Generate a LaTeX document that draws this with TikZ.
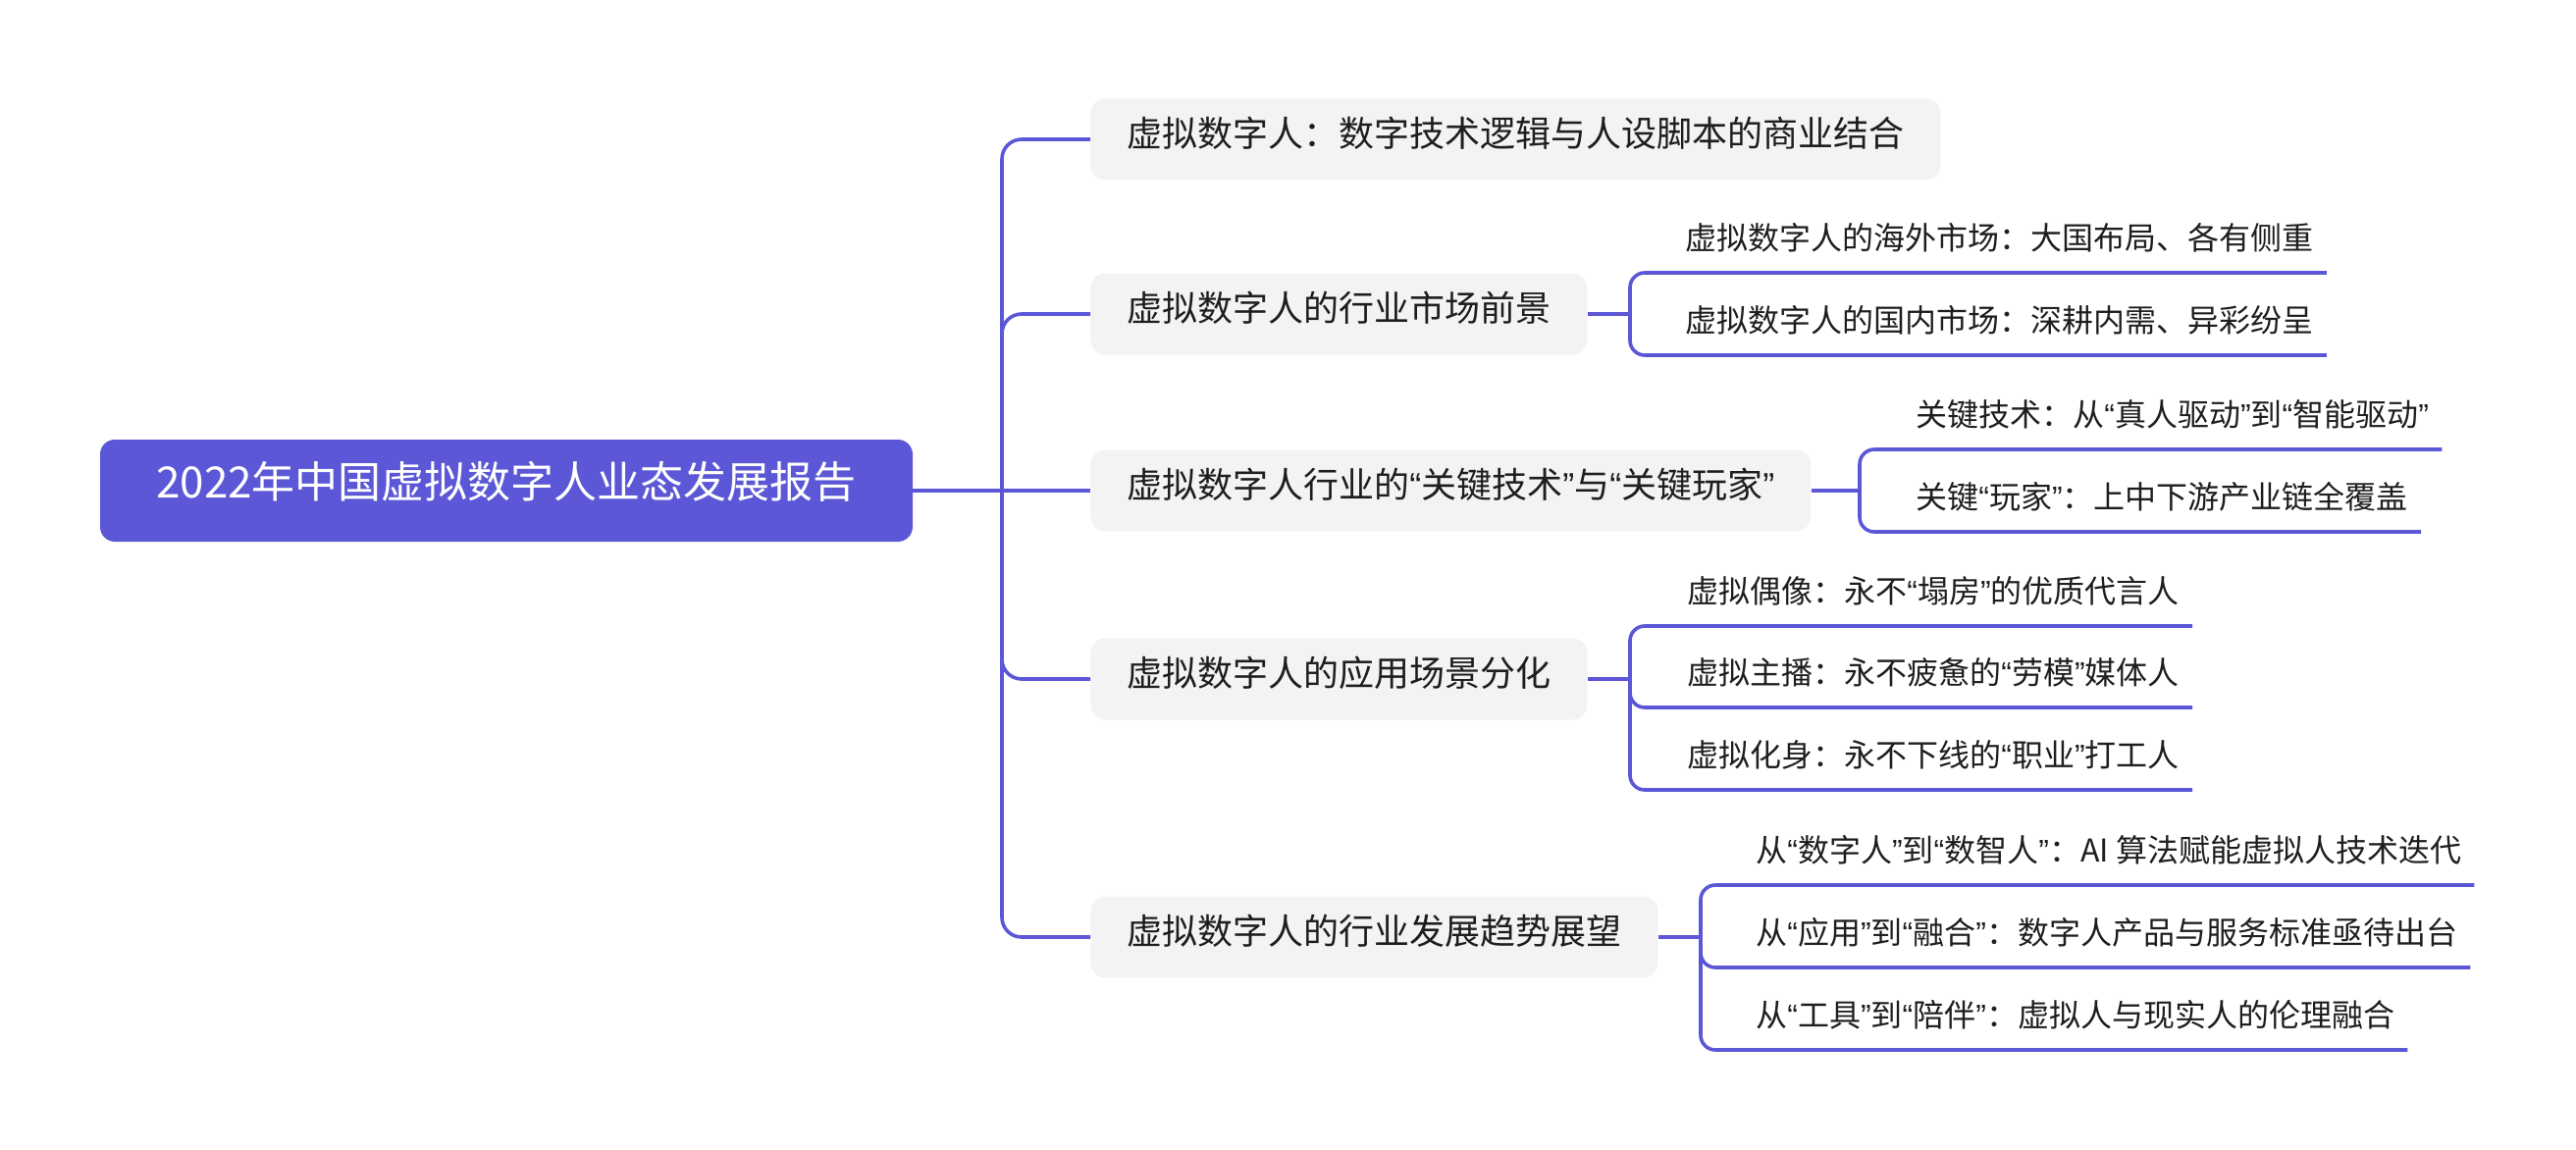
\documentclass[tikz,border=0pt]{standalone}
\usepackage{fontspec}
\setmainfont{Noto Sans CJK SC}
\newfontfamily\qfont{Liberation Sans}
\newcommand{\lqm}{{\qfont “}}
\newcommand{\rqm}{{\qfont ”}}
\definecolor{purp}{RGB}{91,87,214}
\definecolor{boxgray}{RGB}{243,243,244}
\definecolor{txt}{RGB}{30,30,30}
\begin{document}
\begin{tikzpicture}[x=0.5pt,y=-0.5pt,
  rootbox/.style={fill=purp,rounded corners=7.5pt,minimum width=414pt,minimum height=52pt,
    inner sep=0pt,text=white,font=\fontsize{22}{22}\selectfont,text height=0.88em,text depth=0.12em},
  topicbox/.style={fill=boxgray,rounded corners=7.5pt,minimum height=41.5pt,inner xsep=18.5pt,
    inner ysep=0pt,anchor=west,text=txt,font=\fontsize{18}{18}\selectfont,text height=0.88em,text depth=0.12em},
  subtext/.style={anchor=south west,inner xsep=6.5pt,inner ysep=11.5pt,text height=12pt,text depth=0pt,
    text=txt,font=\fontsize{16}{16}\selectfont},
  link/.style={draw=purp,line width=1.8pt,rounded corners=10pt},
  sublink/.style={draw=purp,line width=1.8pt,rounded corners=7.5pt}]
\useasboundingbox (0,0) rectangle (2625,1172);
% root
\node[rootbox] (root) at (516,500) {2022年中国虚拟数字人业态发展报告};
% topics
\node[topicbox] (b1) at (1111,142) {虚拟数字人：数字技术逻辑与人设脚本的商业结合};
\node[topicbox] (b2) at (1111,320) {虚拟数字人的行业市场前景};
\node[topicbox] (b3) at (1111,500) {虚拟数字人行业的\lqm 关键技术\rqm 与\lqm 关键玩家\rqm};
\node[topicbox] (b4) at (1111,692) {虚拟数字人的应用场景分化};
\node[topicbox] (b5) at (1111,955) {虚拟数字人的行业发展趋势展望};
% main connectors
\coordinate (m) at (1021,500);
\draw[link] (root.east) -- (b3.west);
\draw[link] (m) |- (b1.west);
\draw[link] (m) |- (b2.west);
\draw[link] (m) |- (b4.west);
\draw[link] (m) |- (b5.west);
% sub nodes b2
\node[subtext] (c21) at (1704,278) {虚拟数字人的海外市场：大国布局、各有侧重};
\node[subtext] (c22) at (1704,362) {虚拟数字人的国内市场：深耕内需、异彩纷呈};
\coordinate (f2) at (1661,320);
\draw[sublink] (b2.east) -- (f2);
\draw[sublink] (f2) |- (c21.south east);
\draw[sublink] (f2) |- (c22.south east);
% b3
\node[subtext] (c31) at (1939,458) {关键技术：从\lqm 真人驱动\rqm 到\lqm 智能驱动\rqm};
\node[subtext] (c32) at (1939,542) {关键\lqm 玩家\rqm ：上中下游产业链全覆盖};
\coordinate (f3) at (1895,500);
\draw[sublink] (b3.east) -- (f3);
\draw[sublink] (f3) |- (c31.south east);
\draw[sublink] (f3) |- (c32.south east);
% b4
\node[subtext] (c41) at (1706,638) {虚拟偶像：永不\lqm 塌房\rqm 的优质代言人};
\node[subtext] (c42) at (1706,721) {虚拟主播：永不疲惫的\lqm 劳模\rqm 媒体人};
\node[subtext] (c43) at (1706,805) {虚拟化身：永不下线的\lqm 职业\rqm 打工人};
\coordinate (f4) at (1661,692);
\draw[sublink] (b4.east) -- (f4);
\draw[sublink] (f4) |- (c41.south east);
\draw[sublink] (f4) |- (c42.south east);
\draw[sublink] (f4) |- (c43.south east);
% b5
\node[subtext] (c51) at (1776,902) {从\lqm 数字人\rqm 到\lqm 数智人\rqm ：AI 算法赋能虚拟人技术迭代};
\node[subtext] (c52) at (1776,986) {从\lqm 应用\rqm 到\lqm 融合\rqm ：数字人产品与服务标准亟待出台};
\node[subtext] (c53) at (1776,1070) {从\lqm 工具\rqm 到\lqm 陪伴\rqm ：虚拟人与现实人的伦理融合};
\coordinate (f5) at (1733,955);
\draw[sublink] (b5.east) -- (f5);
\draw[sublink] (f5) |- (c51.south east);
\draw[sublink] (f5) |- (c52.south east);
\draw[sublink] (f5) |- (c53.south east);
\end{tikzpicture}
\end{document}
